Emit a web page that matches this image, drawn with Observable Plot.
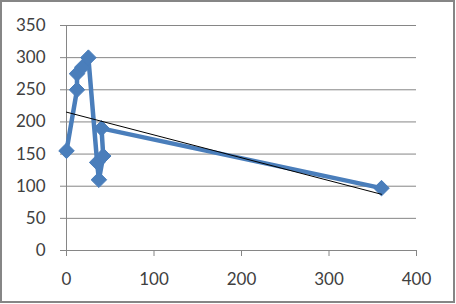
<!DOCTYPE html>
<html>
<head>
<meta charset="utf-8">
<script src="https://cdn.jsdelivr.net/npm/d3@7"></script>
<script src="https://cdn.jsdelivr.net/npm/@observablehq/plot@0.6"></script>
<style>
  html, body { margin: 0; padding: 0; background: #fff; }
  #chart { width: 456px; height: 304px; }
</style>
</head>
<body>
<div id="chart"></div>
<script>
const xValues = [0, 12, 12, 18, 25, 35, 37, 42, 40, 360];
const yValues = [155, 250, 275, 285, 300, 137, 110, 147, 190, 97];
const xTicks = [0, 100, 200, 300, 400];
const yTicks = [0, 50, 100, 150, 200, 250, 300, 350];

const data = xValues.map((x, i) => ({x, y: yValues[i]}));
const blue = "#4A7EBB";
const gray = "#868686";

const chart = Plot.plot({
  width: 456,
  height: 304,
  marginLeft: 66,
  marginRight: 40,
  marginTop: 25,
  marginBottom: 54,
  x: {domain: [0, 400]},
  y: {domain: [0, 350]},
  style: {fontFamily: "Lato", fontSize: "17px", color: "#404040", background: "#fff"},
  marks: [
    Plot.gridY(yTicks, {stroke: gray, strokeOpacity: 1}),
    Plot.axisY(yTicks, {tickSize: 6, tickPadding: 15, stroke: gray, label: null, fill: "#404040"}),
    Plot.axisX(xTicks, {tickSize: 6, tickPadding: 16, stroke: gray, label: null, fill: "#404040"}),
    Plot.ruleX([0], {stroke: gray}),
    Plot.ruleY([0], {stroke: gray}),
    Plot.line(data, {x: "x", y: "y", stroke: blue, strokeWidth: 4.5, strokeLinejoin: "round"}),
    Plot.dot(data, {x: "x", y: "y", symbol: "diamond2", r: 7, fill: blue, stroke: blue, strokeWidth: 1}),
    Plot.linearRegressionY(data, {x: "x", y: "y", stroke: "black", strokeWidth: 1, ci: 0})
  ]
});

d3.select(chart).append("rect")
  .attr("x", 1).attr("y", 1).attr("width", 453).attr("height", 301)
  .attr("fill", "none").attr("stroke", gray).attr("stroke-width", 2);

document.getElementById("chart").appendChild(chart);
</script>
</body>
</html>
